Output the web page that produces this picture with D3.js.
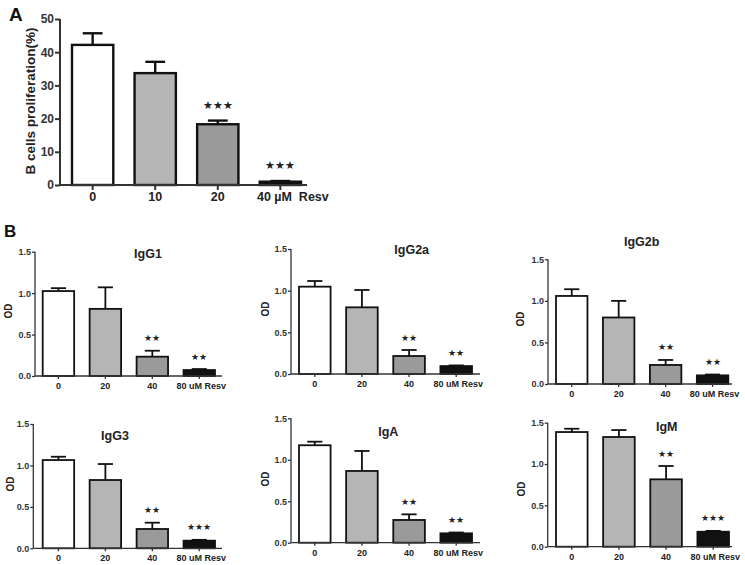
<!DOCTYPE html>
<html>
<head>
<meta charset="utf-8">
<script src="https://cdn.jsdelivr.net/npm/d3@7"></script>
<style>
  html, body { margin: 0; padding: 0; background: #fff; }
  svg { display: block; }
  text { font-family: "Liberation Sans", Arial, sans-serif; }
</style>
</head>
<body>
<svg id="chart" width="745" height="565"></svg>
<script>
// ---------- DATA ----------
const aCategories = ["0", "10", "20", "40 µM  Resv"];
const aValues = [42.2, 33.7, 18.3, 1.0];
const aErrors = [3.5, 3.4, 1.1, 0.2];
const aStars = ["", "", "★★★", "★★★"];
const aTicks = [0, 10, 20, 30, 40, 50];

const bCategories = ["0", "20", "40", "80 uM Resv"];
const bPanels = ["IgG1", "IgG2a", "IgG2b", "IgG3", "IgA", "IgM"];
const bTicks = [0.0, 0.5, 1.0, 1.5];
const igG1Values  = [1.025, 0.81, 0.233, 0.072];
const igG1Errors  = [0.035, 0.26, 0.072, 0.012];
const igG2aValues = [1.048, 0.80, 0.216, 0.095];
const igG2aErrors = [0.068, 0.208, 0.072, 0.008];
const igG2bValues = [1.059, 0.80, 0.229, 0.104];
const igG2bErrors = [0.081, 0.20, 0.060, 0.010];
const igG3Values  = [1.065, 0.824, 0.233, 0.092];
const igG3Errors  = [0.040, 0.193, 0.076, 0.010];
const igAValues   = [1.175, 0.865, 0.274, 0.113];
const igAErrors   = [0.043, 0.241, 0.068, 0.010];
const igMValues   = [1.387, 1.327, 0.815, 0.181];
const igMErrors   = [0.040, 0.084, 0.161, 0.010];
const igG1Stars  = ["", "", "★★", "★★"];
const igG2aStars = ["", "", "★★", "★★"];
const igG2bStars = ["", "", "★★", "★★"];
const igG3Stars  = ["", "", "★★", "★★★"];
const igAStars   = ["", "", "★★", "★★"];
const igMStars   = ["", "", "★★", "★★★"];

const barColors = ["#ffffff", "#b5b5b5", "#9a9a9a", "#111111"];

const bValues = [igG1Values, igG2aValues, igG2bValues, igG3Values, igAValues, igMValues];
const bErrors = [igG1Errors, igG2aErrors, igG2bErrors, igG3Errors, igAErrors, igMErrors];
const bStars = [igG1Stars, igG2aStars, igG2bStars, igG3Stars, igAStars, igMStars];

// ---------- LAYOUT ----------
const layouts = [
  {ax: 35,    yTop: 251.7, y0: 376,   b0: 42.7, b1: 215,   end: 222, tx: 148,   ty: 254,   odx: 8,     ody: 311},
  {ax: 291,   yTop: 249,   y0: 374,   b0: 299,  b1: 472,   end: 480, tx: 411.7, ty: 250,   odx: 265,   ody: 309},
  {ax: 548,   yTop: 259.3, y0: 384,   b0: 556,  b1: 728.3, end: 732, tx: 641.7, ty: 242,   odx: 520,   ody: 319},
  {ax: 33.3,  yTop: 424,   y0: 548.3, b0: 42.7, b1: 215,   end: 222, tx: 115,   ty: 436,   odx: 10,    ody: 484},
  {ax: 291,   yTop: 418.3, y0: 542.7, b0: 299,  b1: 472,   end: 480, tx: 388.3, ty: 431.7, odx: 265,   ody: 479},
  {ax: 547.7, yTop: 422.7, y0: 546.7, b0: 556,  b1: 729,   end: 732, tx: 666.7, ty: 426.7, odx: 521.7, ody: 489}
];

const svg = d3.select("#chart");

function drawPanel(opts) {
  const g = svg.append("g");
  const x = d3.scaleBand().domain(opts.categories).range([opts.b0, opts.b1]).paddingInner(opts.pad).paddingOuter(0);
  const y = d3.scaleLinear().domain([0, opts.max]).range([opts.y0, opts.yTop]);
  const bw = x.bandwidth();
  const rows = opts.categories.map((c, i) => ({c, v: opts.values[i], e: opts.errors[i], s: opts.stars[i], col: barColors[i]}));

  // error bars (upper only)
  g.selectAll("line.err").data(rows).join("line")
    .attr("x1", d => x(d.c) + bw / 2).attr("x2", d => x(d.c) + bw / 2)
    .attr("y1", d => y(d.v)).attr("y2", d => y(d.v + d.e))
    .attr("stroke", "#111").attr("stroke-width", opts.sw);
  g.selectAll("line.cap").data(rows).join("line")
    .attr("x1", d => x(d.c) + bw / 2 - bw * 0.24).attr("x2", d => x(d.c) + bw / 2 + bw * 0.24)
    .attr("y1", d => y(d.v + d.e)).attr("y2", d => y(d.v + d.e))
    .attr("stroke", "#111").attr("stroke-width", opts.sw);

  // bars
  g.selectAll("rect").data(rows).join("rect")
    .attr("x", d => x(d.c)).attr("width", bw)
    .attr("y", d => y(d.v)).attr("height", d => opts.y0 - y(d.v))
    .attr("fill", d => d.col).attr("stroke", "#111").attr("stroke-width", opts.sw);

  // stars
  g.selectAll("text.star").data(rows.filter(d => d.s)).join("text")
    .attr("x", d => x(d.c) + bw / 2).attr("y", d => y(d.v + d.e) - opts.starOff)
    .attr("text-anchor", "middle").attr("dominant-baseline", "central")
    .attr("font-family", "DejaVu Sans").attr("font-size", opts.starSize).attr("fill", "#222")
    .text(d => d.s);

  // y axis
  const yAxis = d3.axisLeft(y).tickValues(opts.ticks).tickFormat(opts.fmt).tickSize(opts.tick).tickPadding(1);
  const ga = g.append("g").attr("transform", `translate(${opts.ax},0)`).call(yAxis);
  ga.select(".domain").attr("stroke", "#333").attr("stroke-width", opts.aw).attr("d", `M0,${opts.yTop}V${opts.y0}`);
  ga.selectAll(".tick line").attr("stroke", "#333").attr("stroke-width", opts.aw);
  ga.selectAll(".tick text").attr("font-size", opts.tickFont).attr("font-weight", "bold").attr("fill", "#333")
    .attr("font-family", "Liberation Sans, Arial, sans-serif");

  // x axis line + ticks
  g.append("line").attr("x1", opts.ax).attr("x2", opts.end).attr("y1", opts.y0).attr("y2", opts.y0)
    .attr("stroke", "#333").attr("stroke-width", opts.aw);
  g.selectAll("line.xt").data(rows).join("line")
    .attr("x1", d => x(d.c) + bw / 2).attr("x2", d => x(d.c) + bw / 2)
    .attr("y1", opts.y0).attr("y2", opts.y0 + opts.tick)
    .attr("stroke", "#333").attr("stroke-width", opts.aw);
  g.selectAll("text.xl").data(rows).join("text")
    .attr("x", (d, i) => x(d.c) + bw / 2 + (i === rows.length - 1 ? opts.lastDx : 0))
    .attr("y", opts.y0 + opts.xlOff)
    .attr("text-anchor", "middle").attr("font-size", opts.xFont).attr("font-weight", "bold").attr("fill", "#222")
    .style("white-space", "pre").attr("xml:space", "preserve")
    .text(d => d.c);

  // y label
  g.append("text").attr("transform", `translate(${opts.lx},${opts.ly}) rotate(-90)`)
    .attr("text-anchor", "middle").attr("dominant-baseline", "central")
    .attr("font-size", opts.lFont).attr("font-weight", "bold").attr("fill", "#222").text(opts.ylabel);

  if (opts.title) {
    g.append("text").attr("x", opts.tx).attr("y", opts.ty).attr("text-anchor", "middle").attr("dominant-baseline", "central")
      .attr("font-size", 12.5).attr("font-weight", "bold").attr("fill", "#222").text(opts.title);
  }
}

// Panel A
drawPanel({
  categories: aCategories, values: aValues, errors: aErrors, stars: aStars, ticks: aTicks, max: 50,
  b0: 72, b1: 301, pad: 0.34, y0: 185, yTop: 19, ax: 60, end: 307, sw: 2.4, aw: 2, tick: 5,
  fmt: d3.format("d"), tickFont: 12, xFont: 12.5, xlOff: 16, lastDx: 12.5, starOff: 16, starSize: 10.5,
  lx: 30, ly: 101, lFont: 13.5, ylabel: "B cells proliferation(%)"
});

// Panel B
bPanels.forEach((name, k) => {
  const L = layouts[k];
  drawPanel({
    categories: bCategories, values: bValues[k], errors: bErrors[k], stars: bStars[k], ticks: bTicks, max: 1.5,
    b0: L.b0, b1: L.b1, pad: 0.33, y0: L.y0, yTop: L.yTop, ax: L.ax, end: L.end, sw: 1.8, aw: 1.3, tick: 3,
    fmt: d3.format(".1f"), tickFont: 9, xFont: 9, xlOff: 13, lastDx: 2, starOff: 12.5, starSize: 9,
    lx: L.odx, ly: L.ody, lFont: 10, ylabel: "OD", title: name, tx: L.tx, ty: L.ty
  });
});

// panel letters
svg.append("text").attr("x", 9).attr("y", 21).attr("font-size", 19).attr("font-weight", "bold").attr("fill", "#111").text("A");
svg.append("text").attr("x", 4).attr("y", 237).attr("font-size", 17).attr("font-weight", "bold").attr("fill", "#111").text("B");
</script>
</body>
</html>
